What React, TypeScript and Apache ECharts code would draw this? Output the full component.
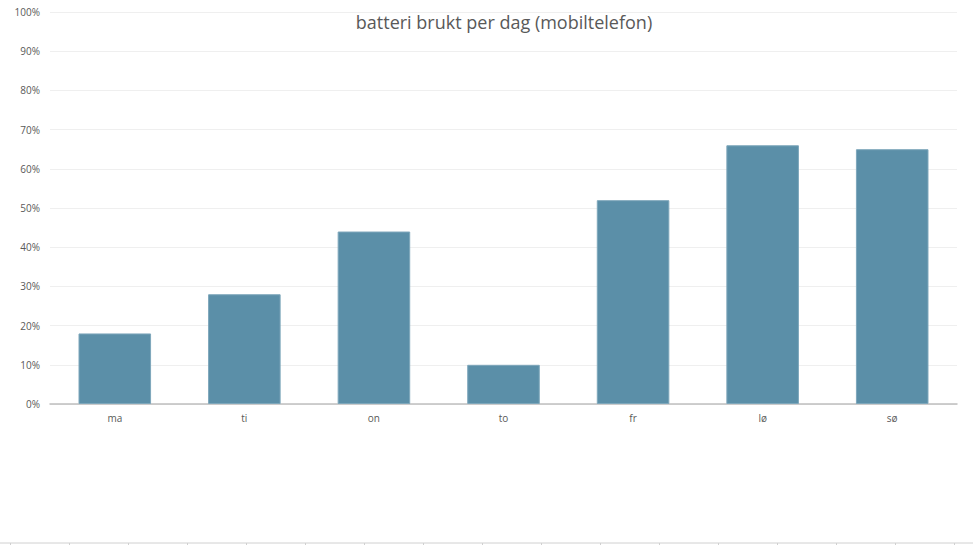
import React, { useEffect, useRef } from "react";
import * as echarts from "echarts";

const categories = ["ma", "ti", "on", "to", "fr", "lø", "sø"];
const values = [0.18, 0.28, 0.44, 0.1, 0.52, 0.66, 0.65];
const titleText = "batteri brukt per dag (mobiltelefon)";

export default function App() {
  const ref = useRef<HTMLDivElement>(null);
  useEffect(() => {
    if (!ref.current) return;
    const chart = echarts.init(ref.current, undefined, { renderer: "svg" });
    const ticks: any[] = [];
    for (let i = 0; i < 17; i++) {
      const x = 10.5 + i * 59;
      ticks.push({
        type: "line",
        shape: { x1: x, y1: 543, x2: x, y2: 545 },
        style: { stroke: "#d0d0d0", lineWidth: 1 },
        silent: true,
      });
    }
    chart.setOption({
      animation: false,
      backgroundColor: "#ffffff",
      title: {
        text: titleText,
        left: 499,
        textAlign: "center",
        top: 8,
        textStyle: {
          fontFamily: "Open Sans",
          fontSize: 18,
          fontWeight: "normal",
          color: "#595959",
        },
      },
      grid: { left: 50, right: 16, top: 12, bottom: 141, containLabel: false },
      xAxis: {
        type: "category",
        data: categories,
        axisLine: { lineStyle: { color: "#bfbfbf", width: 1.5 } },
        axisTick: { show: false },
        axisLabel: {
          color: "#595959",
          fontSize: 10,
          fontFamily: "Open Sans",
          margin: 9,
        },
      },
      yAxis: {
        type: "value",
        min: 0,
        max: 1,
        interval: 0.1,
        axisLine: { show: false },
        axisTick: { show: false },
        splitLine: { lineStyle: { color: "#efefef", width: 1 } },
        axisLabel: {
          color: "#595959",
          fontSize: 10,
          fontFamily: "Open Sans",
          margin: 10,
          formatter: (v: number) => Math.round(v * 100) + "%",
        },
      },
      series: [
        {
          type: "bar",
          data: values,
          barWidth: "56%",
          itemStyle: {
            color: "#5b8fa8",
            borderColor: "#7ea7bb",
            borderWidth: 1,
          },
        },
      ],
      graphic: [
        {
          type: "line",
          shape: { x1: 0, y1: 543, x2: 973, y2: 543 },
          style: { stroke: "#d0d0d0", lineWidth: 1 },
          silent: true,
        },
        ...ticks,
      ],
    });
    return () => chart.dispose();
  }, []);
  return (
    <div
      ref={ref}
      style={{ position: "fixed", left: 0, top: 0, width: 973, height: 545 }}
    />
  );
}
